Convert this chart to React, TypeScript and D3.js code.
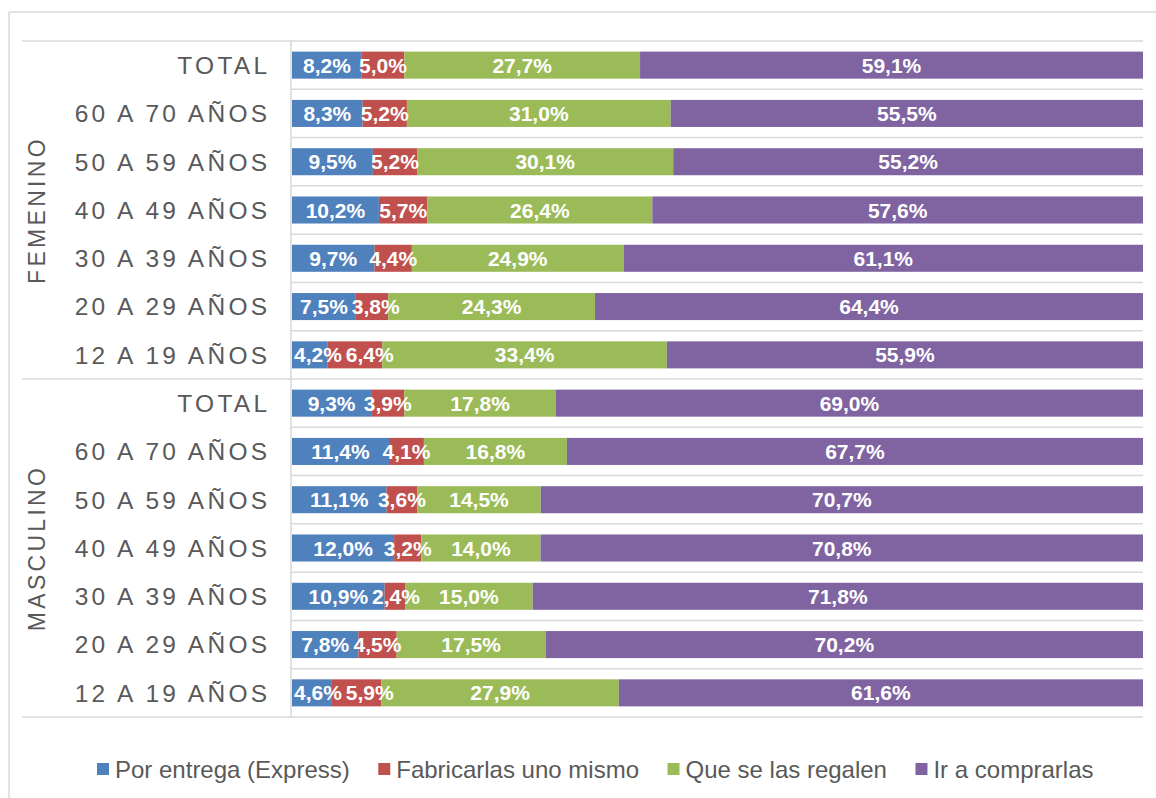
import React from 'react';
import * as d3 from 'd3';

const categories = ['TOTAL', '60 A 70 AÑOS', '50 A 59 AÑOS', '40 A 49 AÑOS', '30 A 39 AÑOS', '20 A 29 AÑOS', '12 A 19 AÑOS'];
const groups = ['FEMENINO', 'MASCULINO'];
const seriesNames = ['Por entrega (Express)', 'Fabricarlas uno mismo', 'Que se las regalen', 'Ir a comprarlas'];
const colors = ['#4F81BD', '#C0504D', '#9BBB59', '#8064A2'];

const femExpress = [8.2, 8.3, 9.5, 10.2, 9.7, 7.5, 4.2];
const femFabricar = [5.0, 5.2, 5.2, 5.7, 4.4, 3.8, 6.4];
const femRegalo = [27.7, 31.0, 30.1, 26.4, 24.9, 24.3, 33.4];
const femComprar = [59.1, 55.5, 55.2, 57.6, 61.1, 64.4, 55.9];

const mascExpress = [9.3, 11.4, 11.1, 12.0, 10.9, 7.8, 4.6];
const mascFabricar = [3.9, 4.1, 3.6, 3.2, 2.4, 4.5, 5.9];
const mascRegalo = [17.8, 16.8, 14.5, 14.0, 15.0, 17.5, 27.9];
const mascComprar = [69.0, 67.7, 70.7, 70.8, 71.8, 70.2, 61.6];

const W = 1156;
const H = 798;
const FONT = "'Liberation Sans', Arial, sans-serif";
const GRID = '#d9d9d9';
const TEXT = '#595959';

const seriesByGroup = [
  [femExpress, femFabricar, femRegalo, femComprar],
  [mascExpress, mascFabricar, mascRegalo, mascComprar],
];

type Row = { key: string; group: number; cat: string; [k: string]: any };

const rows: Row[] = [];
groups.forEach((g, gi) => {
  categories.forEach((c, ci) => {
    const r: Row = { key: `${g}|${c}`, group: gi, cat: c };
    seriesNames.forEach((s, si) => {
      r[s] = seriesByGroup[gi][si][ci];
    });
    rows.push(r);
  });
});

let measureCtx: CanvasRenderingContext2D | null = null;
function textWidth(t: string, font: string) {
  if (!measureCtx) {
    const c = document.createElement('canvas');
    measureCtx = c.getContext('2d');
  }
  measureCtx!.font = font;
  return measureCtx!.measureText(t).width;
}

const fmt = (v: number) => v.toFixed(1).replace('.', ',') + '%';

export default function App() {
  const plotTop = 41;
  const plotBottom = 717;
  const axisX = 291;
  const xLeft = 292;
  const xRight = 1143;
  const gridLeft = 22;

  const x = d3.scaleLinear().domain([0, 1]).range([xLeft, xRight]);
  const pad = 0.44;
  const y = d3
    .scaleBand<string>()
    .domain(rows.map((r) => r.key))
    .range([plotTop, plotBottom])
    .paddingInner(pad)
    .paddingOuter(pad / 2);
  const step = y.step();

  const stack = d3.stack<Row>().keys(seriesNames).offset(d3.stackOffsetExpand);
  const stacked = stack(rows);

  const gridYs = d3.range(rows.length + 1).map((i) => plotTop + i * step);

  // data label layout (center in segment, nudge to avoid overlap like Excel)
  const lblSize = 21;
  const lblFont = `bold ${lblSize}px ${FONT}`;
  const labelGap = 4;
  const labels: { x: number; y: number; t: string; k: string }[] = [];
  rows.forEach((r, ri) => {
    let prevRight = xLeft + 2;
    stacked.forEach((layer, si) => {
      const d = layer[ri];
      const t = fmt(r[seriesNames[si]]);
      const w = textWidth(t, lblFont);
      let left = (x(d[0]) + x(d[1])) / 2 - w / 2;
      const minLeft = si === 0 ? xLeft + 2 : prevRight + labelGap;
      if (left < minLeft) left = minLeft;
      prevRight = left + w;
      labels.push({
        x: left + w / 2,
        y: (y(r.key) as number) + y.bandwidth() / 2,
        t,
        k: `${ri}-${si}`,
      });
    });
  });

  // legend layout
  const legFontSize = 24;
  const legFont = `${legFontSize}px ${FONT}`;
  const sq = 12;
  const sqGap = 6;
  const itemGap = 28.5;
  let lx = 97;
  const legendItems = seriesNames.map((s, i) => {
    const w = textWidth(s, legFont);
    const item = { s, i, x: lx, tw: w };
    lx += sq + sqGap + w + itemGap;
    return item;
  });
  const legY = 769;

  return (
    <svg
      width={W}
      height={H}
      style={{ position: 'absolute', left: 0, top: 0, background: '#fff' }}
      fontFamily={FONT}
    >
      <rect x={0} y={0} width={W} height={H} fill="#fff" />
      {/* chart border */}
      <line x1={9} x2={W} y1={12} y2={12} stroke={GRID} strokeWidth={1.5} />
      <line x1={9} x2={9} y1={12} y2={H} stroke={GRID} strokeWidth={1.5} />

      {/* gridlines */}
      {gridYs.map((gy, i) => {
        const isGroupEdge = i % categories.length === 0;
        return (
          <line
            key={i}
            x1={isGroupEdge ? gridLeft : axisX}
            x2={xRight}
            y1={gy}
            y2={gy}
            stroke={GRID}
            strokeWidth={1.5}
          />
        );
      })}
      <line x1={axisX} x2={axisX} y1={plotTop} y2={plotBottom} stroke={GRID} strokeWidth={1.5} />

      {/* bars */}
      {stacked.map((layer, si) => (
        <g key={si} fill={colors[si]}>
          {layer.map((d, ri) => (
            <rect
              key={ri}
              x={x(d[0])}
              y={y(rows[ri].key)}
              width={Math.max(0, x(d[1]) - x(d[0]))}
              height={y.bandwidth()}
            />
          ))}
        </g>
      ))}

      {/* data labels */}
      <g fill="#fff" fontWeight="bold" fontSize={lblSize} textAnchor="middle">
        {labels.map((l) => (
          <text key={l.k} x={l.x} y={l.y} dy="0.36em">
            {l.t}
          </text>
        ))}
      </g>

      {/* category labels */}
      {rows.map((r) => (
        <text
          key={'c' + r.key}
          x={270.3}
          y={(y(r.key) as number) + y.bandwidth() / 2}
          dy="0.36em"
          textAnchor="end"
          fontSize={24.5}
          letterSpacing={3.25}
          fill={TEXT}
        >
          {r.cat}
        </text>
      ))}

      {/* group labels */}
      {groups.map((g, gi) => {
        const cy = plotTop + (gi * categories.length + categories.length / 2) * step;
        return (
          <text
            key={g}
            transform={`translate(37,${cy}) rotate(-90)`}
            textAnchor="middle"
            dy="0.36em"
            fontSize={23}
            letterSpacing={3.3}
            fill={TEXT}
          >
            {g}
          </text>
        );
      })}

      {/* legend */}
      {legendItems.map((it) => (
        <g key={it.s}>
          <rect x={it.x} y={legY - sq / 2} width={sq} height={sq} fill={colors[it.i]} />
          <text x={it.x + sq + sqGap} y={legY} dy="0.36em" fontSize={legFontSize} fill={TEXT}>
            {it.s}
          </text>
        </g>
      ))}
    </svg>
  );
}
